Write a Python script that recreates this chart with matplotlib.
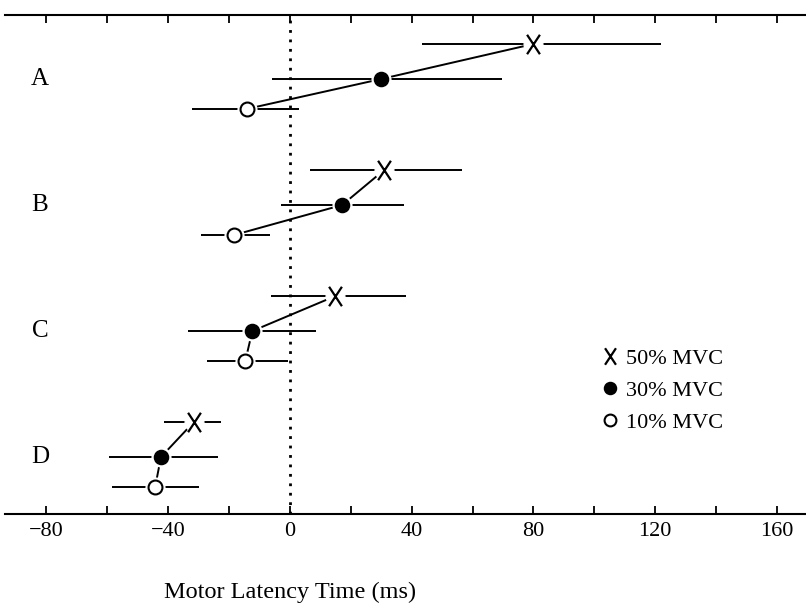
import matplotlib
matplotlib.use("Agg")
import matplotlib.pyplot as plt
from matplotlib.path import Path
from matplotlib.ticker import MultipleLocator, FixedLocator

# ---- data ----
groups = ["A", "B", "C", "D"]
mvc50 = [80, 31, 15, -31.5]
mvc50_lo = [43.5, 6.6, -6.3, -41.3]
mvc50_hi = [122, 56.5, 38, -22.6]
mvc30 = [30, 17.2, -12.3, -42.3]
mvc30_lo = [-5.8, -3.0, -33.4, -59.4]
mvc30_hi = [69.7, 37.6, 8.5, -23.6]
mvc10 = [-14.2, -18.3, -14.6, -44.2]
mvc10_lo = [-32.0, -29.2, -27.2, -58.3]
mvc10_hi = [3.1, -6.4, -0.5, -29.8]
series_labels = ["50% MVC", "30% MVC", "10% MVC"]
xticks_major = [-80, -40, 0, 40, 80, 120, 160]
xlabel = "Motor Latency Time (ms)"

plt.rcParams["font.family"] = ["Liberation Serif", "DejaVu Serif"]

fig = plt.figure(figsize=(8.06, 6.05), dpi=100)
ax = fig.add_axes([5 / 806, 1 - 514 / 605, 801 / 806, (514 - 15) / 605])

offsets = [-0.278, 0.0, 0.238]
ypos = list(range(len(groups)))

xmark = Path([(-0.33, -0.5), (0.33, 0.5), (-0.33, 0.5), (0.33, -0.5)],
             [Path.MOVETO, Path.LINETO, Path.MOVETO, Path.LINETO])

series = [
    (mvc50, mvc50_lo, mvc50_hi, dict(marker=xmark, ms=14, mfc="none", mec="black", mew=1.6)),
    (mvc30, mvc30_lo, mvc30_hi, dict(marker="o", ms=10, mfc="black", mec="black", mew=1.2)),
    (mvc10, mvc10_lo, mvc10_hi, dict(marker="o", ms=10, mfc="white", mec="black", mew=1.5)),
]

lw = 1.4
# zero reference line
ax.axvline(0, color="black", lw=2.0, linestyle=(0, (1, 2.4)), zorder=1)

# error bars
for (vals, lo, hi, st), off in zip(series, offsets):
    for i in ypos:
        ax.plot([lo[i], hi[i]], [i + off, i + off], color="black", lw=lw,
                solid_capstyle="butt", zorder=2)

# connecting lines
for i in ypos:
    xs = [mvc50[i], mvc30[i], mvc10[i]]
    ys = [i + o for o in offsets]
    ax.plot(xs, ys, color="black", lw=lw, zorder=2)

# white halos to create gaps, then markers
handles = []
for (vals, lo, hi, st), off, lab in zip(series, offsets, series_labels):
    ys = [i + off for i in ypos]
    ax.plot(vals, ys, linestyle="none", marker="o", ms=13.5, mfc="white",
            mec="white", zorder=3)
    h, = ax.plot(vals, ys, linestyle="none", zorder=4, label=lab, **st)
    handles.append(h)

# group labels
for i, g in enumerate(groups):
    ax.text(-82, i + 0.0, g, fontsize=18, ha="center", va="center")

ax.set_xlim(-93.5, 169.5)
ax.set_ylim(3.452, -0.508)

for s in ["left", "right"]:
    ax.spines[s].set_visible(False)
for s in ["top", "bottom"]:
    ax.spines[s].set_linewidth(1.5)

ax.set_yticks([])
ax.xaxis.set_major_locator(FixedLocator(xticks_major))
ax.xaxis.set_minor_locator(MultipleLocator(20))
ax.tick_params(axis="x", which="both", direction="in", top=True, bottom=True,
               length=6, width=1.3, labelsize=16, pad=6)
ax.set_xticklabels([f"{t:d}".replace("-", "\u2212") for t in xticks_major])

ax.text(0, (514 - 598) / 499, xlabel, transform=ax.get_xaxis_transform(), fontsize=17.5,
        ha="center", va="baseline")

leg = ax.legend(handles=handles, loc="upper left", bbox_to_anchor=(0.745, 0.332),
                frameon=False, fontsize=16, handlelength=0.75, handletextpad=0.33,
                labelspacing=0.52, borderpad=0, borderaxespad=0, markerscale=0.85)

fig.savefig("out.png", dpi=100)
